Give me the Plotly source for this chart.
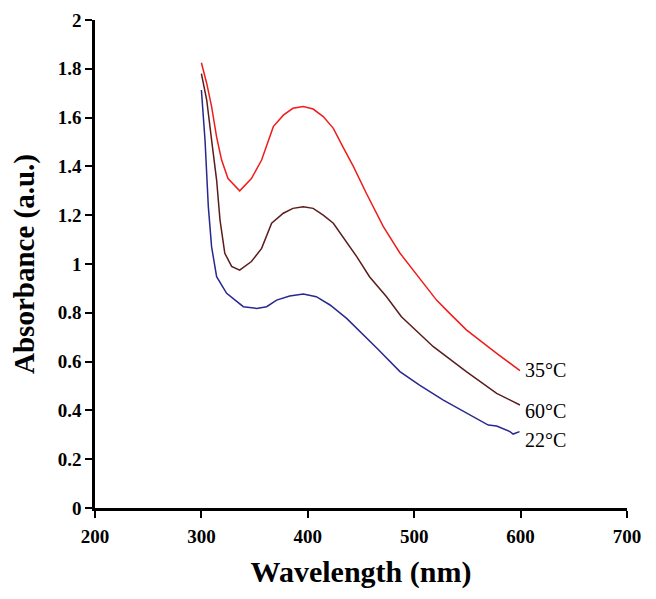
import plotly.graph_objects as go

# Red curve: 35 °C
wl_35 = [300, 305, 309.6, 314.3, 319, 325, 336, 347, 356.6, 363, 367.6, 377, 386, 395.8, 405, 414.5,
         424, 433, 442.8, 455, 471, 486.7, 508.6, 521, 530.5, 549, 577.5, 599.4]
abs_35 = [1.825, 1.74, 1.645, 1.52, 1.426, 1.35, 1.30, 1.35, 1.426, 1.51, 1.563, 1.61, 1.638, 1.645, 1.635, 1.604,
          1.556, 1.48, 1.40, 1.29, 1.153, 1.044, 0.921, 0.852, 0.81, 0.73, 0.634, 0.563]

# Brown curve: 60 °C
wl_60 = [300, 305, 309.6, 314.3, 317.5, 322, 328.4, 336, 347, 356.6, 366, 377, 386, 395.8, 405, 414.5,
         424, 433, 446, 458, 474, 488, 518, 549, 577.5, 599.4]
abs_60 = [1.78, 1.672, 1.508, 1.344, 1.18, 1.044, 0.99, 0.975, 1.01, 1.064, 1.167, 1.208, 1.228, 1.235, 1.228, 1.20,
          1.167, 1.112, 1.03, 0.948, 0.866, 0.784, 0.661, 0.559, 0.47, 0.422]

# Blue curve: 22 °C
wl_22 = [300, 303.4, 306.5, 309.6, 314.3, 323.7, 339.4, 351.9, 361.3, 370.7, 383, 395.8, 408, 420.9, 436.5,
         450, 465, 486.6, 505, 527, 549, 569.6, 577.5, 590, 593, 599]
abs_22 = [1.713, 1.508, 1.235, 1.07, 0.948, 0.88, 0.825, 0.818, 0.825, 0.852, 0.869, 0.877, 0.866, 0.832, 0.777,
          0.72, 0.655, 0.559, 0.504, 0.443, 0.388, 0.34, 0.336, 0.313, 0.303, 0.313]

series = [
    ("35°C", wl_35, abs_35, "#f01c1c"),
    ("60°C", wl_60, abs_60, "#5a1c1c"),
    ("22°C", wl_22, abs_22, "#28288f"),
]

x_ticks = [200, 300, 400, 500, 600, 700]
y_ticks = [0, 0.2, 0.4, 0.6, 0.8, 1, 1.2, 1.4, 1.6, 1.8, 2]
y_tick_text = ["0", "0.2", "0.4", "0.6", "0.8", "1", "1.2", "1.4", "1.6", "1.8", "2"]

fig = go.Figure()
label_yshift = {"35°C": 1, "60°C": -6, "22°C": -8}
for name, xs, ys, col in series:
    fig.add_trace(go.Scatter(x=xs, y=ys, mode="lines", name=name,
                             line=dict(color=col, width=1.5), showlegend=False))
    fig.add_annotation(x=xs[-1], y=ys[-1], text=name, showarrow=False,
                       xanchor="left", yanchor="middle", xshift=3, yshift=label_yshift[name],
                       font=dict(family="Liberation Serif", size=20, color="black"))

font_ticks = dict(family="Liberation Serif", size=19, color="black", weight="bold")
fig.update_layout(
    width=648, height=591,
    margin=dict(l=87, r=29, t=12, b=91),
    plot_bgcolor="white", paper_bgcolor="white",
    font=dict(family="Liberation Serif", color="black"),
    xaxis=dict(range=[200, 700], tickvals=x_ticks, showgrid=False, zeroline=False,
               showline=True, linecolor="black", linewidth=2.5, automargin=False,
               ticks="outside", ticklen=7, tickwidth=2, tickcolor="black",
               tickfont=font_ticks, ticklabelstandoff=2,
               title=dict(text="Wavelength (nm)", standoff=16,
                          font=dict(family="Liberation Serif", size=30, color="black", weight="bold"))),
    yaxis=dict(range=[0, 2], tickvals=y_ticks, ticktext=y_tick_text, showgrid=False, zeroline=False,
               showline=True, linecolor="black", linewidth=2.5, automargin=False,
               ticks="outside", ticklen=7, tickwidth=2, tickcolor="black",
               tickfont=font_ticks,
               title=dict(text="Absorbance (a.u.)", standoff=24,
                          font=dict(family="Liberation Serif", size=29, color="black", weight="bold"))),
)

fig.write_html("out.html")
